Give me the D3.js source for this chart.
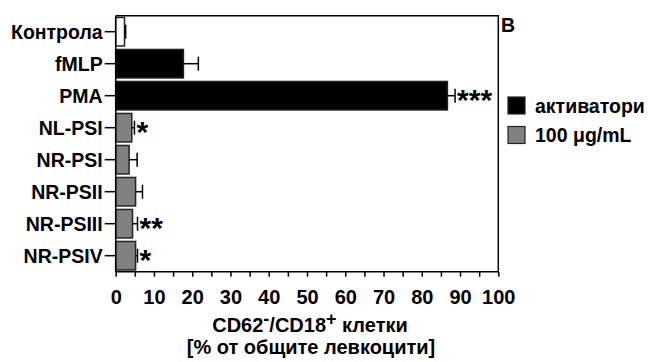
<!DOCTYPE html>
<html>
<head>
<meta charset="utf-8">
<script src="https://cdn.jsdelivr.net/npm/d3@7"></script>
<style>
  html, body { margin: 0; padding: 0; background: #fff; }
  svg text { font-family: "Liberation Sans", Arial, sans-serif; font-weight: bold; fill: #000; }
</style>
</head>
<body>
<svg id="chart" width="648" height="362"></svg>
<script>
// Activated leukocytes (CD62-/CD18+) as % of total leukocytes
const categories = ["Контрола", "fMLP", "PMA", "NL-PSI", "NR-PSI", "NR-PSII", "NR-PSIII", "NR-PSIV"];
const values     = [2.3, 17.7, 86.7, 4.2, 3.5, 5.2, 4.4, 5.2];
const errors     = [0.3, 3.9, 2.0, 0.7, 2.1, 1.8, 1.3, 0.5];
const groups     = ["control", "activator", "activator", "extract", "extract", "extract", "extract", "extract"];
const stars      = ["", "", "***", "*", "", "", "**", "*"];
const xTicks     = [0, 10, 20, 30, 40, 50, 60, 70, 80, 90, 100];
const legendItems = [
  { key: "activator", label: "активатори" },
  { key: "extract",   label: "100 μg/mL" }
];

const fills = { control: "#ffffff", activator: "#000000", extract: "#808080" };

const svg = d3.select("#chart");
const plotLeft = 115.7, plotTop = 15.7, plotRight = 498.3, plotBottom = 271.7;

const x = d3.scaleLinear().domain([0, 100]).range([plotLeft, plotRight]);
const y = d3.scaleBand().domain(categories).range([plotTop, plotBottom])
  .paddingInner(0.11).paddingOuter(0.055);

// frame: top and right edges
svg.append("path")
  .attr("d", `M${plotLeft},${plotTop}H${plotRight}V${plotBottom}`)
  .attr("fill", "none").attr("stroke", "#000").attr("stroke-width", 1.5);

// bars
svg.append("g").selectAll("rect").data(categories).join("rect")
  .attr("x", x(0))
  .attr("y", d => y(d))
  .attr("width", (d, i) => x(values[i]) - x(0))
  .attr("height", y.bandwidth())
  .attr("fill", (d, i) => fills[groups[i]])
  .attr("stroke", "#222")
  .attr("stroke-width", 1.5);

// one-sided error bars
const eb = svg.append("g").attr("stroke", "#000").attr("stroke-width", 1.5);
categories.forEach((c, i) => {
  const cy = y(c) + y.bandwidth() / 2;
  const x0 = x(values[i]), x1 = x(values[i] + errors[i]);
  eb.append("line").attr("x1", x0).attr("x2", x1).attr("y1", cy).attr("y2", cy);
  eb.append("line").attr("x1", x1).attr("x2", x1).attr("y1", cy - 7).attr("y2", cy + 7);
});

// significance marks
svg.append("g").selectAll("text").data(categories).join("text")
  .attr("x", (d, i) => x(values[i] + errors[i]) + 2)
  .attr("y", d => y(d) + y.bandwidth() / 2 + 14)
  .attr("font-size", 30)
  .text((d, i) => stars[i]);

// y axis
const yAxis = d3.axisLeft(y).tickSize(11).tickPadding(2);
const gy = svg.append("g").attr("transform", `translate(${plotLeft},0)`).call(yAxis);
gy.select(".domain").attr("stroke-width", 1.5).attr("d", `M0,${plotTop}V${plotBottom}`);
gy.selectAll(".tick line").attr("stroke-width", 1.5);
gy.selectAll(".tick text").attr("font-size", 19.5).attr("dy", "0.35em");

// x axis with minor ticks every 5
const gxMinor = svg.append("g").attr("transform", `translate(0,${plotBottom})`)
  .call(d3.axisBottom(x).tickValues(d3.range(0, 101, 5)).tickSize(5).tickFormat(""));
gxMinor.select(".domain").attr("stroke-width", 1.5).attr("d", `M${plotLeft},0H${plotRight}`);
gxMinor.selectAll(".tick line").attr("stroke-width", 1.5);

const gx = svg.append("g").attr("transform", `translate(0,${plotBottom})`)
  .call(d3.axisBottom(x).tickValues(xTicks).tickSize(0).tickPadding(18).tickFormat(d3.format("d")));
gx.select(".domain").remove();
gx.selectAll(".tick text").attr("font-size", 20).attr("dy", "0.71em");

// axis title
const title = svg.append("text").attr("text-anchor", "middle").attr("font-size", 20)
  .attr("x", 310).attr("y", 332);
title.append("tspan").text("CD62");
title.append("tspan").attr("dy", -7).attr("font-size", 18).text("-");
title.append("tspan").attr("dy", 7).text("/CD18");
title.append("tspan").attr("dy", -7).attr("font-size", 18).text("+");
title.append("tspan").attr("dy", 7).text(" клетки");
svg.append("text").attr("text-anchor", "middle").attr("font-size", 20)
  .attr("x", 311).attr("y", 354).text("[% от общите левкоцити]");

// panel letter
svg.append("text").attr("x", 501).attr("y", 32).attr("font-size", 19.5).text("B");

// legend
const lg = svg.append("g").selectAll("g").data(legendItems).join("g")
  .attr("transform", (d, i) => `translate(508,${97 + i * 29.5})`);
lg.append("rect").attr("width", 17).attr("height", 17)
  .attr("fill", d => fills[d.key]).attr("stroke", "#222").attr("stroke-width", 1.2);
lg.append("text").attr("x", 27).attr("y", 15.5).attr("font-size", 19.5).text(d => d.label);
</script>
</body>
</html>
